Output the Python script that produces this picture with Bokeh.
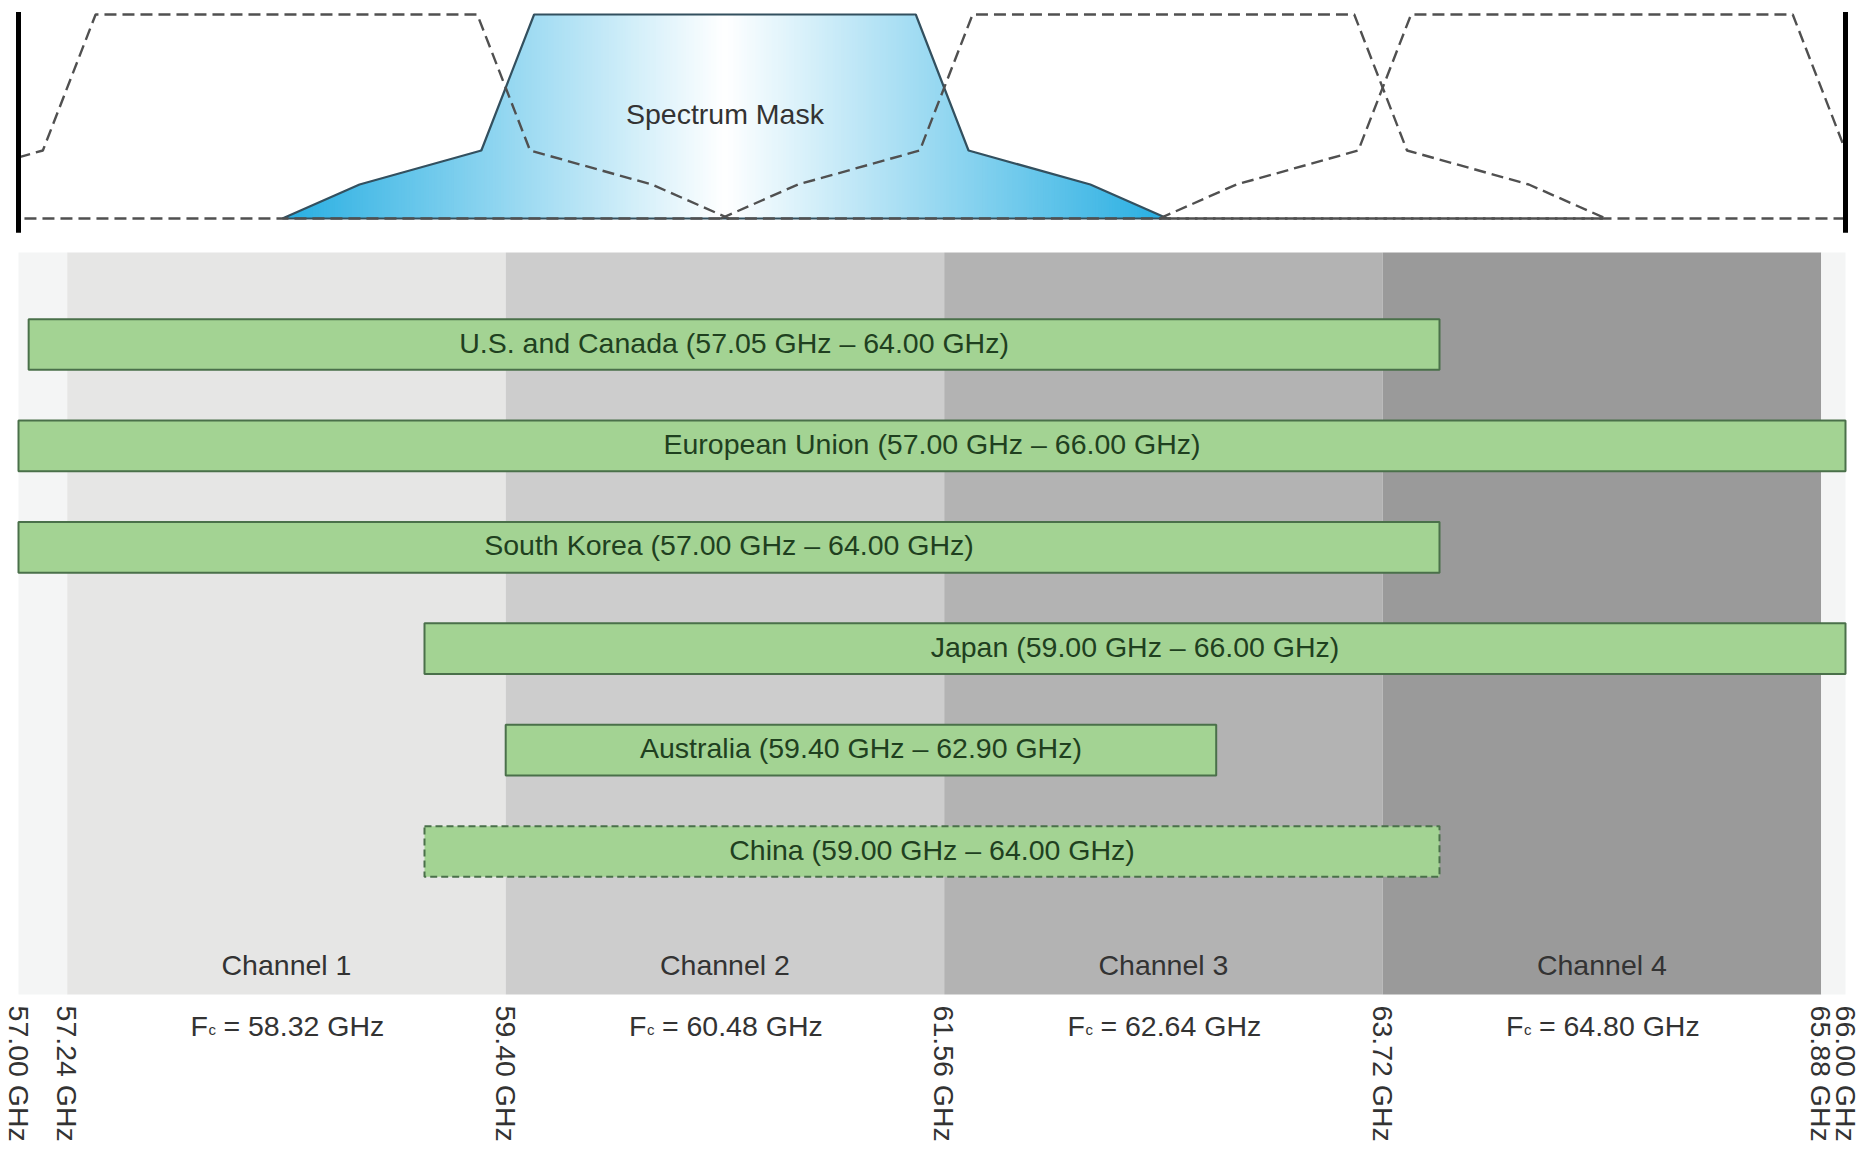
import numpy as np
from bokeh.plotting import figure
from bokeh.layouts import column
from bokeh.models import Range1d
from bokeh.core.properties import value
from bokeh.embed import file_html
from bokeh.resources import INLINE

# ---------------- data ----------------
channel_names = ["Channel 1", "Channel 2", "Channel 3", "Channel 4"]
channel_center_ghz = [58.32, 60.48, 62.64, 64.80]
band_edges_ghz = [57.00, 57.24, 59.40, 61.56, 63.72, 65.88, 66.00]
active_channel = 1  # channel whose spectrum mask is filled

mask_offset_ghz = [-2.18, -1.80, -1.20, -0.94, 0.94, 1.20, 1.80, 2.18]
mask_level_db = [-30, -25, -20, 0, 0, -20, -25, -30]

regions = ["U.S. and Canada", "European Union", "South Korea", "Japan", "Australia", "China"]
region_start_ghz = [57.05, 57.00, 57.00, 59.00, 59.40, 59.00]
region_end_ghz = [64.00, 66.00, 64.00, 66.00, 62.90, 64.00]
region_tentative = [False, False, False, False, False, True]

# ---------------- styles / layout ----------------
FONT = value("Liberation Sans")
FS = "28.5px"
W = 1860
TOP_H = 248
BOT_H = 902
band_colors = ["#f4f5f5", "#e6e6e5", "#cdcdcd", "#b3b3b3", "#9a9a9a", "#f4f5f5"]
bar_fill = "#a3d393"
bar_line = "#4a704a"
bar_text = "#1f401f"
label_col = "#333333"
blue = np.array([38, 174, 226], float)
white = np.array([255, 255, 255], float)

PX_PER_GHZ = 203.0
x0 = 57.0 - 18.0 / PX_PER_GHZ
x_range = Range1d(x0, x0 + W / PX_PER_GHZ)


def make_fig(h, y_range):
    p = figure(width=W, height=h, x_range=x_range, y_range=y_range,
               x_axis_location=None, y_axis_location=None,
               toolbar_location=None, output_backend="svg",
               min_border=0, outline_line_color=None,
               background_fill_color="white", border_fill_color="white")
    p.xgrid.visible = False
    p.ygrid.visible = False
    return p


def clip_polyline(px, py, lo, hi):
    pieces, cx, cy = [], [], []
    for i in range(len(px) - 1):
        xa, ya, xb, yb = px[i], py[i], px[i + 1], py[i + 1]
        t0, t1 = 0.0, 1.0
        dx = xb - xa
        if dx == 0:
            if not (lo <= xa <= hi):
                t0, t1 = 1.0, 0.0
        else:
            ta, tb = (lo - xa) / dx, (hi - xa) / dx
            t0, t1 = max(t0, min(ta, tb)), min(t1, max(ta, tb))
        if t0 > t1:
            if cx:
                pieces.append((cx, cy))
                cx, cy = [], []
            continue
        ax, ay = xa + t0 * dx, ya + t0 * (yb - ya)
        bx, by = xa + t1 * dx, ya + t1 * (yb - ya)
        if cx and (abs(cx[-1] - ax) > 1e-9 or abs(cy[-1] - ay) > 1e-9):
            pieces.append((cx, cy))
            cx, cy = [], []
        if not cx:
            cx, cy = [ax], [ay]
        cx.append(bx)
        cy.append(by)
    if cx:
        pieces.append((cx, cy))
    return pieces


# ---------------- top panel: spectrum masks ----------------
DB_PX = 6.8
top = make_fig(TOP_H, Range1d(-30 - (TOP_H - 218) / DB_PX, 14 / DB_PX))
ox = np.array(mask_offset_ghz, float)
ly = np.array(mask_level_db, float)
floor_db = ly.min()
c = channel_center_ghz[active_channel]

N = 320
edges = np.linspace(ox[0], ox[-1], N + 1)
step = edges[1] - edges[0]
gxs, gys, gcols = [], [], []
for i in range(N):
    a = edges[i]
    b = edges[i + 1] + (0.6 * step if i < N - 1 else 0.0)
    ya, yb = np.interp([a, b], ox, ly)
    gxs.append([c + a, c + a, c + b, c + b])
    gys.append([floor_db, ya, yb, floor_db])
    t = min(1.0, abs(0.5 * (edges[i] + edges[i + 1])) / ox[-1])
    col = white + (blue - white) * t
    gcols.append("#%02x%02x%02x" % tuple(int(round(v)) for v in col))
top.patches(gxs, gys, fill_color=gcols, line_color=None)

# solid outline of active mask
top.line(list(c + ox) + [c + ox[0]], list(ly) + [ly[0]],
         line_color="#33505f", line_width=2.2)

# dashed masks for other channels
dxs, dys = [], []
for k, cc in enumerate(channel_center_ghz):
    if k == active_channel:
        continue
    px = list(cc + ox) + [cc + ox[0]]
    py = list(ly) + [ly[0]]
    for sx, sy in clip_polyline(px, py, band_edges_ghz[0], band_edges_ghz[-1]):
        dxs.append(sx)
        dys.append(sy)
top.multi_line(dxs, dys, line_color="#505050", line_width=2.4, line_dash="12 6")

# band edge markers
top.segment(x0=[band_edges_ghz[0], band_edges_ghz[-1]], y0=[0.35, 0.35],
            x1=[band_edges_ghz[0], band_edges_ghz[-1]], y1=[-32.1, -32.1],
            line_color="black", line_width=5)

top.text(x=[c], y=[-14.7], text=["Spectrum Mask"], text_font=FONT,
         text_font_size=FS, text_color=label_col, text_align="center",
         text_baseline="middle")

# ---------------- bottom panel: regulatory bands ----------------
ROW_PX = 101.4
bot = make_fig(BOT_H, Range1d(1 - (1150 - 851) / ROW_PX, 1 + (851 - 248) / ROW_PX))
band_top, band_bottom = 6.907, -0.41

bot.quad(left=band_edges_ghz[:-1], right=band_edges_ghz[1:],
         bottom=band_bottom, top=band_top, fill_color=band_colors,
         line_color=None)

n = len(regions)
row_y = [n - i for i in range(n)]
solid_idx = [i for i in range(n) if not region_tentative[i]]
dash_idx = [i for i in range(n) if region_tentative[i]]
BAR_H = 0.5
bot.hbar(y=[row_y[i] for i in solid_idx],
         left=[region_start_ghz[i] for i in solid_idx],
         right=[region_end_ghz[i] for i in solid_idx], height=BAR_H,
         fill_color=bar_fill, line_color=bar_line, line_width=2)
bot.hbar(y=[row_y[i] for i in dash_idx],
         left=[region_start_ghz[i] for i in dash_idx],
         right=[region_end_ghz[i] for i in dash_idx], height=BAR_H,
         fill_color=bar_fill, line_color=bar_line, line_width=2,
         line_dash="7 4")

bar_labels = [f"{r} ({s:.2f} GHz \u2013 {e:.2f} GHz)"
              for r, s, e in zip(regions, region_start_ghz, region_end_ghz)]
bot.text(x=[(s + e) / 2 for s, e in zip(region_start_ghz, region_end_ghz)],
         y=row_y, text=bar_labels, y_offset=-2, text_font=FONT,
         text_font_size=FS, text_color=bar_text, text_align="center",
         text_baseline="middle")

# channel names inside the band
bot.text(x=channel_center_ghz, y=[-0.12] * 4, text=channel_names,
         text_font=FONT, text_font_size=FS, text_color=label_col,
         text_align="center", text_baseline="middle")

# centre frequency labels: "F" + subscript "c" + "= xx.xx GHz"
fc_y = [-0.718] * 4
bot.text(x=channel_center_ghz, y=fc_y, text=["F"] * 4, x_offset=-96,
         text_font=FONT, text_font_size=FS, text_color=label_col,
         text_align="left", text_baseline="alphabetic")
bot.text(x=channel_center_ghz, y=fc_y, text=["c"] * 4, x_offset=-78, y_offset=4,
         text_font=FONT, text_font_size="15px", text_color=label_col,
         text_align="left", text_baseline="alphabetic")
bot.text(x=channel_center_ghz, y=fc_y,
         text=[f"= {f:.2f} GHz" for f in channel_center_ghz], x_offset=-63,
         text_font=FONT, text_font_size=FS, text_color=label_col,
         text_align="left", text_baseline="alphabetic")

# band edge frequency labels (rotated)
bot.text(x=band_edges_ghz, y=[-0.519] * len(band_edges_ghz),
         text=[f"{f:.2f} GHz" for f in band_edges_ghz], angle=-np.pi / 2,
         text_font=FONT, text_font_size=FS, text_color=label_col,
         text_align="left", text_baseline="middle")

layout = column(top, bot, spacing=0)
open("out.html", "w").write(file_html(layout, INLINE))
